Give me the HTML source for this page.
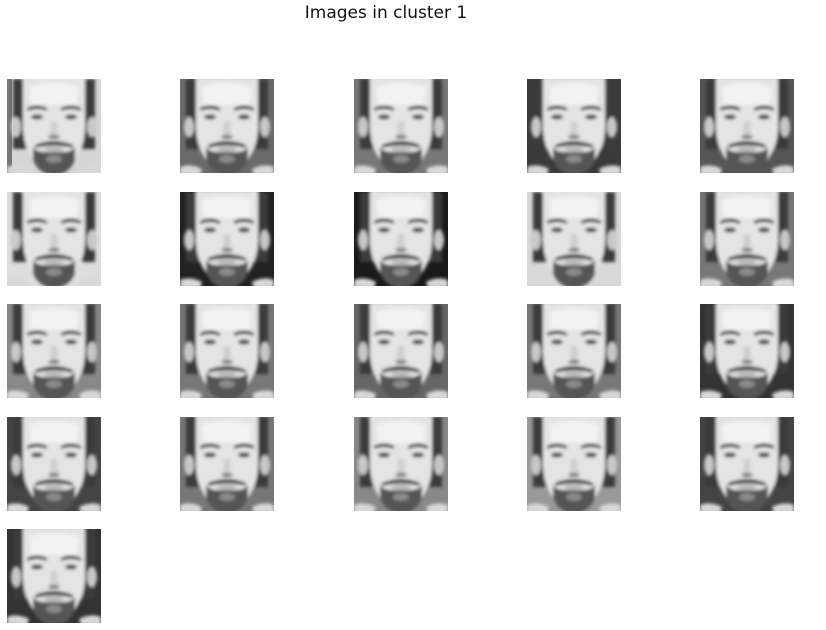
<!DOCTYPE html>
<html><head><meta charset="utf-8"><style>
html,body{margin:0;padding:0;background:#fff;}
body{width:826px;height:630px;position:relative;overflow:hidden;font-family:"DejaVu Sans","Liberation Sans",sans-serif;}
.t{position:absolute;left:0;width:772px;text-align:center;top:3px;font-size:17px;color:#111;}
svg{position:absolute;left:0;top:0;}
</style></head><body>
<div class="t">Images in cluster 1</div>
<svg width="826" height="630" viewBox="0 0 826 630">
<defs>
<filter id="bl" x="-10%" y="-10%" width="120%" height="120%"><feGaussianBlur stdDeviation="1.6"/></filter>
<clipPath id="cp"><rect x="0" y="0" width="94" height="94"/></clipPath>
<g id="face">
<g clip-path="url(#cp)"><g filter="url(#bl)">
<path d="M6 0 L88 0 L88 70 L6 70 Z" fill="#3a3a3a"/>
<ellipse cx="9" cy="48" rx="5" ry="10" fill="#c8c8c8"/>
<ellipse cx="85" cy="48" rx="5" ry="10" fill="#c8c8c8"/>
<path d="M16 -2 L78 -2 L78 50 Q76 85 47 96 Q18 85 16 50 Z" fill="#e4e4e4"/>
<path d="M22 8 Q47 0 72 8 L70 26 L24 26 Z" fill="#f2f2f2"/>
<path d="M20 29 Q30 24 40 29 L40 32 Q30 28 20 32 Z" fill="#333"/>
<path d="M54 29 Q64 24 74 29 L74 32 Q64 28 54 32 Z" fill="#333"/>
<ellipse cx="30" cy="38" rx="6" ry="2.5" fill="#444"/>
<ellipse cx="64" cy="38" rx="6" ry="2.5" fill="#444"/>
<path d="M44 42 L43 56 L51 56 L50 42 Z" fill="#cfcfcf"/>
<ellipse cx="47" cy="58" rx="6" ry="2" fill="#777"/>
<path d="M28 66 Q47 58 66 66 L66 69 Q47 64 28 69 Z" fill="#3c3c3c"/>
<ellipse cx="47" cy="70" rx="10" ry="2.5" fill="#b8b8b8"/>
<path d="M26 68 Q28 72 36 73 L58 73 Q66 72 68 68 L68 80 Q64 94 47 97 Q30 94 26 80 Z" fill="#555"/>
<ellipse cx="47" cy="80" rx="8" ry="4" fill="#8a8a8a"/>
<path d="M0 88 Q10 84 22 90 L20 96 L0 96 Z" fill="#d8d8d8"/>
<path d="M94 88 Q84 84 72 90 L74 96 L94 96 Z" fill="#d8d8d8"/>
</g></g>
</g>
</defs>
<!-- row 1 -->
<rect x="7" y="79" width="94" height="94" fill="#d6d6d6"/><rect x="7" y="79" width="5" height="94" fill="#777"/><use href="#face" x="7" y="79"/>
<rect x="180" y="79" width="94" height="94" fill="#6a6a6a"/><use href="#face" x="180" y="79"/>
<rect x="354" y="79" width="94" height="94" fill="#777"/><use href="#face" x="354" y="79"/>
<rect x="527" y="79" width="94" height="94" fill="#3a3a3a"/><use href="#face" x="527" y="79"/>
<rect x="700" y="79" width="94" height="94" fill="#555"/><use href="#face" x="700" y="79"/>
<!-- row 2 -->
<rect x="7" y="192" width="94" height="94" fill="#ddd"/><use href="#face" x="7" y="192"/>
<rect x="180" y="192" width="94" height="94" fill="#222"/><use href="#face" x="180" y="192"/>
<rect x="354" y="192" width="94" height="94" fill="#1a1a1a"/><use href="#face" x="354" y="192"/>
<rect x="527" y="192" width="94" height="94" fill="#d8d8d8"/><use href="#face" x="527" y="192"/>
<rect x="700" y="192" width="94" height="94" fill="#777"/><use href="#face" x="700" y="192"/>
<!-- row 3 -->
<rect x="7" y="304" width="94" height="94" fill="#888"/><use href="#face" x="7" y="304"/>
<rect x="180" y="304" width="94" height="94" fill="#777"/><use href="#face" x="180" y="304"/>
<rect x="354" y="304" width="94" height="94" fill="#666"/><use href="#face" x="354" y="304"/>
<rect x="527" y="304" width="94" height="94" fill="#777"/><use href="#face" x="527" y="304"/>
<rect x="700" y="304" width="94" height="94" fill="#333"/><use href="#face" x="700" y="304"/>
<!-- row 4 -->
<rect x="7" y="417" width="94" height="94" fill="#444"/><use href="#face" x="7" y="417"/>
<rect x="180" y="417" width="94" height="94" fill="#777"/><use href="#face" x="180" y="417"/>
<rect x="354" y="417" width="94" height="94" fill="#888"/><use href="#face" x="354" y="417"/>
<rect x="527" y="417" width="94" height="94" fill="#999"/><use href="#face" x="527" y="417"/>
<rect x="700" y="417" width="94" height="94" fill="#444"/><use href="#face" x="700" y="417"/>
<!-- row 5 -->
<rect x="7" y="529" width="94" height="94" fill="#333"/><use href="#face" x="7" y="529"/>
</svg>
</body></html>
